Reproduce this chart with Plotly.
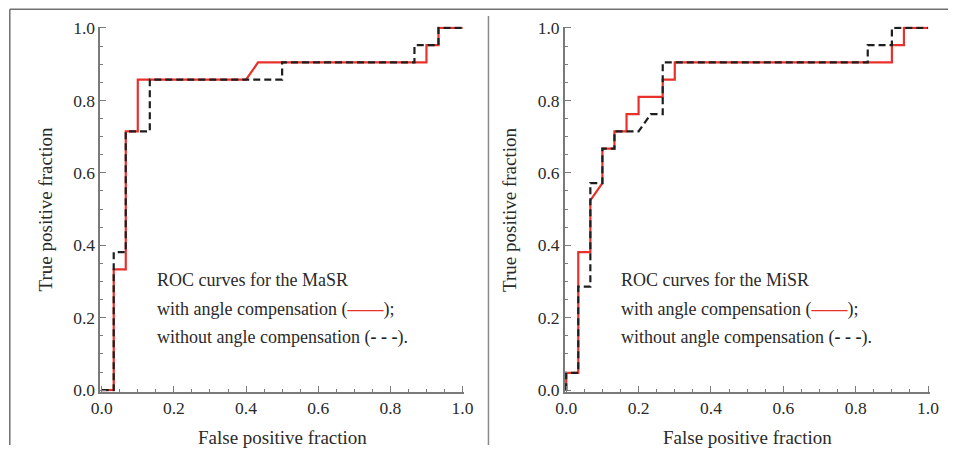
import plotly.graph_objects as go

# ROC curves, MaSR panel (left)
masr_with_fpf = [0, 0.0333, 0.0333, 0.0667, 0.0667, 0.1, 0.1, 0.4, 0.4333, 0.9, 0.9, 0.9333, 0.9333, 1.0]
masr_with_tpf = [0, 0, 0.3333, 0.3333, 0.7143, 0.7143, 0.8571, 0.8571, 0.9048, 0.9048, 0.9524, 0.9524, 1.0, 1.0]
masr_without_fpf = [0, 0.0333, 0.0333, 0.0667, 0.0667, 0.1333, 0.1333, 0.5, 0.5, 0.8667, 0.8667, 0.9333, 0.9333, 1.0]
masr_without_tpf = [0, 0, 0.3810, 0.3810, 0.7143, 0.7143, 0.8571, 0.8571, 0.9048, 0.9048, 0.9524, 0.9524, 1.0, 1.0]

# ROC curves, MiSR panel (right)
misr_with_fpf = [0, 0, 0.0333, 0.0333, 0.0667, 0.0667, 0.1, 0.1, 0.1333, 0.1333, 0.1667, 0.1667,
                 0.2, 0.2, 0.2667, 0.2667, 0.3, 0.3, 0.9, 0.9, 0.9333, 0.9333, 1.0]
misr_with_tpf = [0, 0.0476, 0.0476, 0.3810, 0.3810, 0.5238, 0.5714, 0.6667, 0.6667, 0.7143, 0.7143, 0.7619,
                 0.7619, 0.8095, 0.8095, 0.8571, 0.8571, 0.9048, 0.9048, 0.9524, 0.9524, 1.0, 1.0]
misr_without_fpf = [0, 0, 0.0333, 0.0333, 0.0667, 0.0667, 0.1, 0.1, 0.1333, 0.1333, 0.2, 0.2333,
                    0.2667, 0.2667, 0.8333, 0.8333, 0.9, 0.9, 1.0]
misr_without_tpf = [0, 0.0476, 0.0476, 0.2857, 0.2857, 0.5714, 0.5714, 0.6667, 0.6667, 0.7143, 0.7143, 0.7619,
                    0.7619, 0.9048, 0.9048, 0.9524, 0.9524, 1.0, 1.0]

tick_vals = [0.0, 0.2, 0.4, 0.6, 0.8, 1.0]
tick_text = ["0.0", "0.2", "0.4", "0.6", "0.8", "1.0"]

RED = "#e8312b"
BLACK = "#1e1e1e"
AXIS = "#7a7a7a"
TEXT = "#2a2a2a"
FONT = "Liberation Serif, Times New Roman, DejaVu Serif, serif"

W, H = 958, 454

# placement grid: positions are given as page pixels inside an inset box
INSET = 8
BOX_W, BOX_H = W - 2 * INSET, H - 2 * INSET


def fx(p):
    """page pixel column -> paper x"""
    return (p - INSET) / BOX_W


def fy(p):
    """page pixel row -> paper y"""
    return 1 - (p - INSET) / BOX_H


fig = go.Figure()

panels = [
    ("x", "y", masr_with_fpf, masr_with_tpf, masr_without_fpf, masr_without_tpf),
    ("x2", "y2", misr_with_fpf, misr_with_tpf, misr_without_fpf, misr_without_tpf),
]
for xa, ya, ax_, ay_, bx_, by_ in panels:
    fig.add_trace(go.Scatter(x=ax_, y=ay_, mode="lines", xaxis=xa, yaxis=ya,
                             line=dict(color=RED, width=2.2), showlegend=False, hoverinfo="skip"))
    fig.add_trace(go.Scatter(x=bx_, y=by_, mode="lines", xaxis=xa, yaxis=ya,
                             line=dict(color=BLACK, width=2.2, dash="7px,4px"),
                             showlegend=False, hoverinfo="skip"))

pad = 0.004

# page pixel extents of the 0..1 data range in each panel
lx0, lx1 = 101, 463
rx0, rx1 = 567, 930
yb, yt = 391, 28


def xdom(p0, p1):
    e = (p1 - p0) * pad
    return [fx(p0 - e), fx(p1 + e)]


e_y = (yb - yt) * pad
ydom = [fy(yb + e_y), fy(yt - e_y)]

axis_common = dict(
    range=[-pad, 1 + pad], showgrid=False, zeroline=False,
    showline=True, linecolor=AXIS, linewidth=1.5,
    ticks="inside", ticklen=6, tickwidth=1.2, tickcolor=AXIS,
    tickvals=tick_vals, ticktext=tick_text,
    tickfont=dict(family=FONT, size=17.5, color=TEXT),
    minor=dict(ticks="inside", ticklen=3, tickwidth=1, tickcolor=AXIS, dtick=0.05, tick0=0),
    fixedrange=True,
)

fig.update_layout(
    width=W, height=H,
    margin=dict(l=0, r=0, t=0, b=0, pad=0),
    paper_bgcolor="white", plot_bgcolor="white",
    xaxis=dict(axis_common, domain=xdom(lx0, lx1), anchor="y"),
    yaxis=dict(axis_common, domain=ydom, anchor="x"),
    xaxis2=dict(axis_common, domain=xdom(rx0, rx1), anchor="y2"),
    yaxis2=dict(axis_common, domain=ydom, anchor="x2"),
)

# axis titles
for cx, ycx in [((lx0 + lx1) / 2, 45), ((rx0 + rx1) / 2, 510)]:
    fig.add_annotation(x=fx(cx), y=fy(438), xref="paper", yref="paper",
                       xanchor="center", yanchor="middle",
                       text="False positive fraction", showarrow=False,
                       font=dict(family=FONT, size=19, color=TEXT))
    fig.add_annotation(x=fx(ycx), y=fy(210), xref="paper", yref="paper",
                       xanchor="center", yanchor="middle",
                       text="True positive fraction", showarrow=False, textangle=-90,
                       font=dict(family=FONT, size=19, color=TEXT))

# in-plot captions with line samples
captions = [("x", "y", "MaSR", 0.149), ("x2", "y2", "MiSR", 0.146)]
caption_rows = [0.303, 0.223, 0.146]
for xr, yr, name, x0 in captions:
    lines = [
        f"ROC curves for the {name}",
        f"with angle compensation (<span style='color:{RED}'><b>\u2014\u2014</b></span>);",
        f"without angle compensation (<span style='color:{BLACK}'><b>- - -</b></span>).",
    ]
    for t, yv in zip(lines, caption_rows):
        fig.add_annotation(x=x0, y=yv, xref=xr, yref=yr,
                           xanchor="left", yanchor="middle", text=t, showarrow=False,
                           font=dict(family=FONT, size=18, color=TEXT))

# figure frame and panel divider
fig.add_shape(type="line", xref="paper", yref="paper",
              x0=fx(8.8), x1=1, y0=fy(9.3), y1=fy(9.3),
              line=dict(color="#707070", width=1.5))
fig.add_shape(type="line", xref="paper", yref="paper",
              x0=fx(8.8), x1=fx(8.8), y0=0, y1=fy(9.3),
              line=dict(color="#707070", width=1.5))
fig.add_shape(type="line", xref="paper", yref="paper",
              x0=fx(489), x1=fx(489), y0=0, y1=fy(16),
              line=dict(color="#8a8a8a", width=1.5))

fig.write_html("out.html")
